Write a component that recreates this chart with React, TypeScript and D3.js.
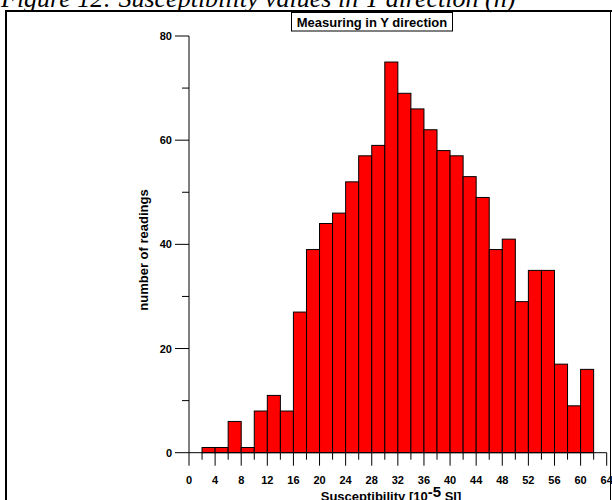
import React from "react";
import * as d3 from "d3";

const binStarts = [2, 4, 6, 8, 10, 12, 14, 16, 18, 20, 22, 24, 26, 28, 30, 32, 34, 36, 38, 40, 42, 44, 46, 48, 50, 52, 54, 56, 58, 60];
const counts = [1, 1, 6, 1, 8, 11, 8, 27, 39, 44, 46, 52, 57, 59, 75, 69, 66, 62, 58, 57, 53, 49, 39, 41, 29, 35, 35, 17, 9, 16];
const binWidth = 2;
const xMajorTicks = [0, 4, 8, 12, 16, 20, 24, 28, 32, 36, 40, 44, 48, 52, 56, 60, 64];
const xMinorTicks = [2, 6, 10, 14, 18, 22, 26, 30, 34, 38, 42, 46, 50, 54, 58, 62];
const yMajorTicks = [0, 20, 40, 60, 80];
const yMinorTicks = [10, 30, 50, 70];
const pageTitle = "Figure 12: Susceptibility values in Y direction (n)";
const chartTitle = "Measuring in Y direction";
const yLabel = "number of readings";

export default function App() {
  const x = d3.scaleLinear().domain([0, 64]).range([189, 606.7]);
  const y = d3.scaleLinear().domain([0, 80]).range([452.7, 36]);
  const sans = "'Liberation Sans', Arial, sans-serif";
  const y0 = y(0);
  const x0 = x(0);
  return (
    <svg width={612} height={500} style={{ position: "absolute", left: 0, top: 0, background: "#fff" }}>
      <rect x={0} y={0} width={612} height={500} fill="#fff" />
      <text x={1} y={7} fontFamily="'Liberation Serif', 'Times New Roman', serif" fontStyle="italic" fontSize={26}>
        {pageTitle}
      </text>
      <line x1={5} x2={612} y1={11} y2={11} stroke="#000" strokeWidth={2} />
      <line x1={6} x2={6} y1={11} y2={500} stroke="#000" strokeWidth={2} />
      <line x1={610.5} x2={610.5} y1={11} y2={500} stroke="#000" strokeWidth={1} />

      {/* chart title box */}
      <rect x={291.5} y={12.5} width={161} height={18.5} fill="#fff" stroke="#000" strokeWidth={1} />
      <text x={372} y={27} textAnchor="middle" fontFamily={sans} fontWeight="bold" fontSize={13}>
        {chartTitle}
      </text>

      {/* bars */}
      {counts.map((c, i) => (
        <rect
          key={i}
          x={x(binStarts[i])}
          y={y(c)}
          width={x(binStarts[i] + binWidth) - x(binStarts[i])}
          height={y0 - y(c)}
          fill="#ff0000"
          stroke="#000"
          strokeWidth={1}
        />
      ))}

      {/* y axis */}
      <line x1={x0} x2={x0} y1={y(80)} y2={y0} stroke="#000" strokeWidth={1} />
      {yMajorTicks.map((t) => (
        <g key={"ym" + t}>
          <line x1={x0 - 14} x2={x0} y1={y(t)} y2={y(t)} stroke="#000" strokeWidth={1} />
          <text x={172} y={y(t) + 4} textAnchor="end" fontFamily={sans} fontWeight="bold" fontSize={11}>
            {t}
          </text>
        </g>
      ))}
      {yMinorTicks.map((t) => (
        <line key={"yn" + t} x1={x0 - 7} x2={x0} y1={y(t)} y2={y(t)} stroke="#000" strokeWidth={1} />
      ))}
      <text
        transform={`translate(148,250) rotate(-90)`}
        textAnchor="middle"
        fontFamily={sans}
        fontWeight="bold"
        fontSize={13}
      >
        {yLabel}
      </text>

      {/* x axis */}
      <line x1={x0} x2={x(64)} y1={y0} y2={y0} stroke="#000" strokeWidth={1} />
      {xMajorTicks.map((t) => (
        <g key={"xm" + t}>
          <line x1={x(t)} x2={x(t)} y1={y0} y2={y0 + 13} stroke="#000" strokeWidth={1} />
          <text x={x(t)} y={484} textAnchor="middle" fontFamily={sans} fontWeight="bold" fontSize={11}>
            {t}
          </text>
        </g>
      ))}
      {xMinorTicks.map((t) => (
        <line key={"xn" + t} x1={x(t)} x2={x(t)} y1={y0} y2={y0 + 7} stroke="#000" strokeWidth={1} />
      ))}
      <text x={391} y={501} textAnchor="middle" fontFamily={sans} fontWeight="bold" fontSize={13}>
        Susceptibility [10
        <tspan dy={-4} fontSize={15}>-5</tspan>
        <tspan dy={4}> SI]</tspan>
      </text>
    </svg>
  );
}
